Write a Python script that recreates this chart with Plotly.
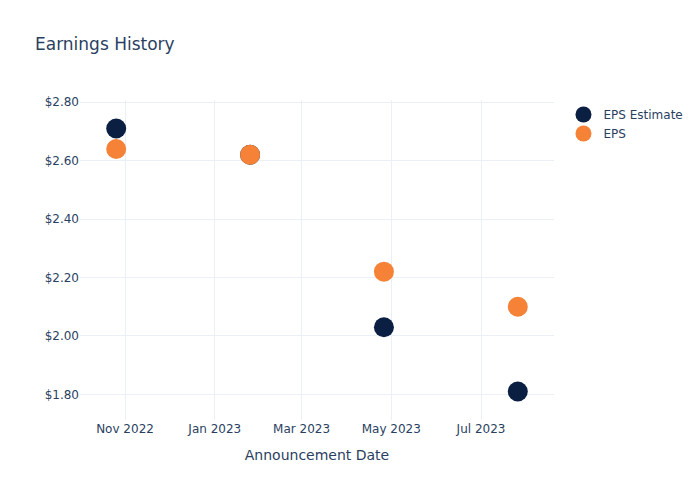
import plotly.graph_objects as go

dates = ["2022-10-26", "2023-01-25", "2023-04-26", "2023-07-26"]
eps_estimate = [2.71, 2.62, 2.03, 1.81]
eps_actual = [2.64, 2.62, 2.22, 2.10]

fig = go.Figure()
fig.add_trace(go.Scatter(
    x=dates, y=eps_estimate, mode="markers", name="EPS Estimate",
    marker=dict(size=20, color="#0b1f42"),
))
fig.add_trace(go.Scatter(
    x=dates, y=eps_actual, mode="markers", name="EPS",
    marker=dict(size=20, color="#f58236"),
))
fig.update_layout(
    template="plotly_white",
    width=700, height=500,
    font=dict(family="DejaVu Sans"),
    title=dict(text="Earnings History"),
    xaxis=dict(title=dict(text="Announcement Date"), tickformat="%b %Y", dtick="M2"),
    yaxis=dict(tickformat="$.2f"),
)
fig.write_html("out.html", config={"displayModeBar": False},
               post_script="document.body.style.margin='0';")
